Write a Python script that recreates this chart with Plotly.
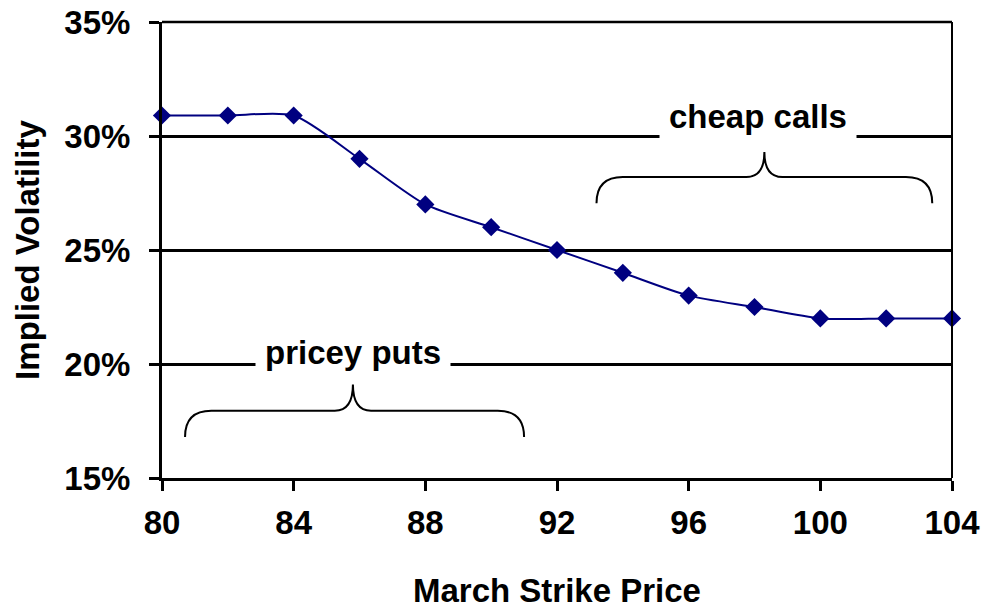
import plotly.graph_objects as go

strikes = [80, 82, 84, 86, 88, 90, 92, 94, 96, 98, 100, 102, 104]
implied_vol = [30.9, 30.9, 30.9, 29, 27, 26, 25, 24, 23, 22.5, 22, 22, 22]
y_ticks = [15, 20, 25, 30, 35]
y_tick_labels = ["15%", "20%", "25%", "30%", "35%"]
x_ticks = [80, 84, 88, 92, 96, 100, 104]

NAVY = "#000080"
FONT = "Liberation Sans"

fig = go.Figure()
fig.add_trace(go.Scatter(
    x=strikes, y=implied_vol, mode="lines+markers",
    line=dict(color=NAVY, width=2, shape="spline", smoothing=0.7),
    marker=dict(symbol="diamond", size=14, color=NAVY),
    cliponaxis=False, showlegend=False,
))


def brace(x0, x1, xp, y_end, y_h, y_peak, r_end, r_peak):
    return (f"M {x0},{y_end} Q {x0},{y_h} {x0 + r_end},{y_h} "
            f"L {xp - r_peak},{y_h} Q {xp},{y_h} {xp},{y_peak} "
            f"Q {xp},{y_h} {xp + r_peak},{y_h} "
            f"L {x1 - r_end},{y_h} Q {x1},{y_h} {x1},{y_end}")


shapes = [
    dict(type="path", xref="x", yref="y",
         path=brace(93.2, 103.4, 98.3, 27.05, 28.2, 29.3, 0.8, 0.55),
         line=dict(color="black", width=2)),
    dict(type="path", xref="x", yref="y",
         path=brace(80.7, 91.0, 85.8, 16.8, 17.95, 19.1, 0.8, 0.55),
         line=dict(color="black", width=2)),
    dict(type="line", xref="paper", yref="paper", x0=1, x1=1, y0=0, y1=1,
         line=dict(color="black", width=2)),
    dict(type="line", xref="paper", yref="paper", x0=0, x1=1, y0=1, y1=1,
         line=dict(color="black", width=2.5), layer="below"),
]

ann_font = dict(family=FONT, size=33, color="black", weight="bold")
annotations = [
    dict(x=98.1, y=30, xref="x", yref="y", text="cheap calls", showarrow=False,
         font=ann_font, bgcolor="white", borderpad=9, yshift=20),
    dict(x=85.8, y=20, xref="x", yref="y", text="pricey puts", showarrow=False,
         font=ann_font, bgcolor="white", borderpad=9, yshift=12),
]

axis_font = dict(family=FONT, size=33, color="black", weight="bold")

fig.update_layout(
    width=983, height=609,
    margin=dict(l=162, r=31, t=22, b=131),
    plot_bgcolor="white", paper_bgcolor="white",
    shapes=shapes, annotations=annotations,
    xaxis=dict(range=[80, 104], tickmode="array", tickvals=x_ticks, showgrid=False,
               showline=True, linecolor="black", linewidth=3,
               ticks="outside", ticklen=10, tickwidth=3, tickcolor="black",
               ticklabelstandoff=3,
               tickfont=axis_font, zeroline=False, automargin=False,
               title=dict(text="March Strike Price", font=axis_font, standoff=44)),
    yaxis=dict(range=[15, 35], tickmode="array", tickvals=y_ticks,
               ticktext=y_tick_labels,
               showgrid=True, gridcolor="black", gridwidth=2.5,
               showline=True, linecolor="black", linewidth=3,
               ticks="outside", ticklen=10, tickwidth=3, tickcolor="black",
               ticklabelstandoff=12,
               tickfont=axis_font, zeroline=False, automargin=False,
               title=dict(text="Implied Volatility", font=axis_font, standoff=15)),
)

fig.write_html(
    "out.html",
    config={"displayModeBar": False},
    post_script="document.body.style.margin='0';document.body.style.overflow='hidden';",
)
